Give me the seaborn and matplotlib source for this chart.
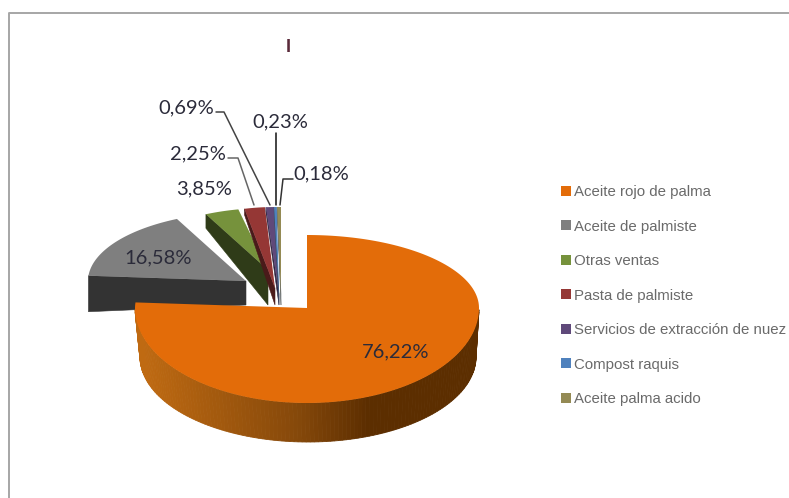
import numpy as np
import matplotlib
matplotlib.use("Agg")
import matplotlib.pyplot as plt
from matplotlib.lines import Line2D
from matplotlib.patches import Patch
import seaborn as sns

categories = ['Aceite rojo de palma', 'Aceite de palmiste', 'Otras ventas', 'Pasta de palmiste',
              'Servicios de extracción de nuez', 'Compost raquis', 'Aceite palma acido']
shares = [76.22, 16.58, 3.85, 2.25, 0.69, 0.23, 0.18]
share_labels = ['76,22%', '16,58%', '3,85%', '2,25%', '0,69%', '0,23%', '0,18%']
colors = ['#E36C09', '#7F7F7F', '#76923C', '#953735', '#5F497A', '#4F81BD', '#948A54']
side_colors = ['#5C2E00', '#333333', '#2F3B18', '#4A1A1A', '#2F2440', '#3F4F6A', '#6A6F70']

W, H = 789, 498

# layout of each slice in pixels: tip, radii, wall depth at the rim and at the tip
slice_cx = [307, 246, 268, 275, 279, 279, 281]
slice_cy = [308, 281, 270, 288, 294, 294, 294]
slice_rx = [172, 158, 142, 146, 190, 190, 340]
ry_up = [73, 69, 62, 81, 87, 87, 87]
ry_down = [95, 69, 62, 81, 87, 87, 87]
rim_depth = [0, 36, 14, 6, 4, 4, 4]
tip_depth = [0, 24, 35, 17, 11, 11, 11]

sns.set_theme(style="white")
plt.rcParams['font.family'] = ['Lato', 'DejaVu Sans']

fig = plt.figure(figsize=(W / 100, H / 100), dpi=100)
ax = fig.add_axes([0, 0, 1, 1])
ax.set_xlim(0, W)
ax.set_ylim(H, 0)
ax.axis('off')
sns.despine(ax=ax, left=True, bottom=True)

# slices run clockwise from 12 o'clock
theta = 90 - np.cumsum([0] + shares) * 3.6


def rim(i, t):
    s = np.sin(t)
    ry = np.where(s > 0, ry_up[i], ry_down[i])
    return slice_cx[i] + slice_rx[i] * np.cos(t), slice_cy[i] - ry * s


def draw_slice(i):
    t = np.radians(np.linspace(theta[i], theta[i + 1], 200))
    x, y = rim(i, t)
    if i == 0:
        # front wall of the big slice, shaded left to right
        low = t[np.sin(t) <= 0]
        xs, ys = rim(i, low)
        # lower edge of the wall is its own ellipse
        xb, yb = 308 + 168 * np.cos(low), 357 - 85 * np.sin(low)
        wall_x = [142, 300, 370, 480]
        r = np.interp(xs, wall_x, [0xBF, 0x85, 0x5C, 0x5C]) / 255
        g = np.interp(xs, wall_x, [0x6A, 0x48, 0x2E, 0x2E]) / 255
        b = np.interp(xs, wall_x, [0x12, 0x0A, 0x00, 0x00]) / 255
        for k in range(len(low) - 1):
            col = (r[k], g[k], b[k])
            ax.fill([xs[k], xs[k + 1], xb[k + 1], xb[k]],
                    [ys[k], ys[k + 1], yb[k + 1], yb[k]],
                    color=col, lw=0.6)
    else:
        # cut face on the left side of the slice
        ax.fill([x[0], slice_cx[i], slice_cx[i], x[0]],
                [y[0], slice_cy[i], slice_cy[i] + tip_depth[i], y[0] + rim_depth[i]],
                color=side_colors[i], lw=0.4)
    ax.fill(np.r_[slice_cx[i], x], np.r_[slice_cy[i], y], color=colors[i], lw=0)


for i in list(range(1, len(shares))) + [0]:
    draw_slice(i)

# data labels
label_xy = [(396, 352), (158, 258), (204, 189), (198, 154), (186, 108), (280, 122), (321, 174)]
for txt, (lx, ly) in zip(share_labels, label_xy):
    ax.text(lx, ly, txt, ha='center', va='center', fontsize=14.5, color='#2b2b3a', zorder=8)

# leader lines
leader_x = [[216, 224, 270], [228, 238, 254], [276, 276], [293, 283, 280]]
leader_y = [[112, 112, 205], [158, 158, 205], [133, 205], [179, 179, 205]]
leader_c = ['#444444', '#666666', '#111111', '#333333']
for lx, ly, c in zip(leader_x, leader_y, leader_c):
    ax.plot(lx, ly, color=c, lw=1.1, zorder=7)

# title mark
ax.text(288, 47, 'I', ha='center', va='center', fontsize=13, fontweight='bold', color='#5a2a3a',
        family=['Liberation Sans'])

# chart frame, cut by the picture edge
fig.add_artist(Line2D([8.5 / W, 8.5 / W, 1], [0, 1 - 13.5 / H, 1 - 13.5 / H], color='#a6a6a6', lw=1.4))

handles = [Patch(fc=c, ec='none') for c in colors]
leg = fig.legend(handles, categories, loc='upper left', bbox_to_anchor=(561 / W, 1 - 185 / H),
                 bbox_transform=fig.transFigure, frameon=False, ncol=1, borderpad=0, borderaxespad=0,
                 handlelength=0.65, handleheight=0.65, handletextpad=0.22, labelspacing=1.37,
                 prop={'family': 'Liberation Sans', 'size': 10.8}, labelcolor='#6a6a6a')

fig.savefig('out.png', dpi=100, facecolor='white')
